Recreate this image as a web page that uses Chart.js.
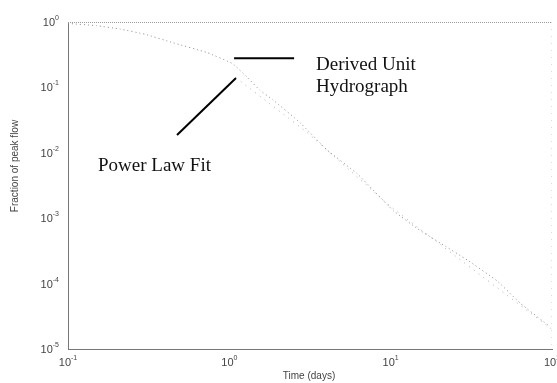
<!DOCTYPE html>
<html>
<head>
<meta charset="utf-8">
<script src="https://cdn.jsdelivr.net/npm/chart.js@4.4.1/dist/chart.umd.min.js"></script>
<style>
  html, body { margin: 0; padding: 0; background: #fff; }
  #wrap { width: 557px; height: 383px; }
</style>
</head>
<body>
<div id="wrap"><canvas id="grafico"></canvas></div>
<script>
// derived unit hydrograph (time in days, fraction of peak flow)
var hydroTime  = [0.1, 0.15, 0.21, 0.3, 0.45, 0.73, 1.05, 1.3, 1.55, 1.87, 2.74, 4.04, 6.2, 7.9, 10.4, 14.8, 20.2, 29.8, 45.7, 63.6, 97];
var hydroValue = [0.95, 0.88, 0.78, 0.65, 0.48, 0.34, 0.23, 0.14, 0.09, 0.064, 0.029, 0.011, 0.0048, 0.0026, 0.0013, 0.00068, 0.00042, 0.00023, 0.00011, 0.00005, 0.000022];

// power law fit
var fitTime  = [1.1, 3, 10, 30, 100];
var fitValue = [0.14, 0.021, 0.0015, 0.00019, 0.00002];

// callout pointers
var derivedPointerTime  = [1.07, 2.52];
var derivedPointerValue = [0.28, 0.28];
var powerPointerTime  = [0.474, 1.10];
var powerPointerValue = [0.0187, 0.139];

// tick labels
var xTicks = [0.1, 1, 10, 100];
var xExps  = ['-1', '0', '1', '2'];
var yTicks = [1, 0.1, 0.01, 0.001, 0.0001, 0.00001];
var yExps  = ['0', '-1', '-2', '-3', '-4', '-5'];

function toXY(xs, ys) {
    var out = [];
    for (let i = 0; i < xs.length; i++) out.push({x: xs[i], y: ys[i]});
    return out;
}

function pow10(ctx, base, exp, x, y, align) {
    ctx.font = '11px "Liberation Sans", Arial, sans-serif';
    var bw = ctx.measureText(base).width;
    ctx.font = '7px "Liberation Sans", Arial, sans-serif';
    var ew = ctx.measureText(exp).width;
    var left = align === 'right' ? x - bw - ew : x - (bw + ew) / 2;
    ctx.textAlign = 'left';
    ctx.textBaseline = 'middle';
    ctx.font = '11px "Liberation Sans", Arial, sans-serif';
    ctx.fillText(base, left, y);
    ctx.font = '7px "Liberation Sans", Arial, sans-serif';
    ctx.fillText(exp, left + bw, y - 5);
}

var textos = {
    id: 'textos',
    afterDraw: function (chart) {
        var ctx = chart.ctx;
        var xs = chart.scales.x, ys = chart.scales.y;
        var a = chart.chartArea;
        ctx.save();

        // top and right frame (dotted, faint like the scan)
        ctx.strokeStyle = '#999';
        ctx.lineWidth = 1;
        ctx.setLineDash([1, 1]);
        ctx.beginPath();
        ctx.moveTo(a.left, a.top + 0.5);
        ctx.lineTo(a.right, a.top + 0.5);
        ctx.stroke();
        ctx.strokeStyle = '#ddd';
        ctx.setLineDash([1, 6]);
        ctx.beginPath();
        ctx.moveTo(a.right - 0.5, a.top);
        ctx.lineTo(a.right - 0.5, a.bottom);
        ctx.stroke();
        ctx.setLineDash([]);

        ctx.fillStyle = '#444';
        for (let i = 0; i < xTicks.length; i++) {
            pow10(ctx, '10', xExps[i], xs.getPixelForValue(xTicks[i]), a.bottom + 14, 'center');
        }
        for (let i = 0; i < yTicks.length; i++) {
            pow10(ctx, '10', yExps[i], a.left - 9, ys.getPixelForValue(yTicks[i]) + 1, 'right');
        }

        // axis titles
        ctx.font = '10px "Liberation Sans", Arial, sans-serif';
        ctx.textAlign = 'center';
        ctx.textBaseline = 'middle';
        ctx.fillText('Time (days)', 309, 376);
        ctx.save();
        ctx.translate(15, 166);
        ctx.rotate(-Math.PI / 2);
        ctx.fillText('Fraction of peak flow', 0, 0);
        ctx.restore();

        // callout labels
        ctx.fillStyle = '#111';
        ctx.font = '19px "Liberation Serif", "Times New Roman", serif';
        ctx.textAlign = 'left';
        ctx.textBaseline = 'alphabetic';
        ctx.fillText('Derived Unit', 316, 70);
        ctx.fillText('Hydrograph', 316, 92);
        ctx.fillText('Power Law Fit', 98, 171);
        ctx.restore();
    }
};

var canvas = document.getElementById('grafico');
var grafico = new Chart(canvas, {
    type: 'line',
    data: {
        datasets: [{
            label: 'Derived Unit Hydrograph',
            data: toXY(hydroTime, hydroValue),
            borderColor: '#8a8a8a',
            borderWidth: 1,
            borderDash: [1, 3],
            pointRadius: 0,
            tension: 0.1,
            fill: false
        }, {
            label: 'Power Law Fit',
            data: toXY(fitTime, fitValue),
            borderColor: '#b0b0b0',
            borderWidth: 1,
            borderDash: [1, 5],
            pointRadius: 0,
            fill: false
        }, {
            label: 'pointer 1',
            data: toXY(derivedPointerTime, derivedPointerValue),
            borderColor: '#000',
            borderWidth: 2,
            pointRadius: 0
        }, {
            label: 'pointer 2',
            data: toXY(powerPointerTime, powerPointerValue),
            borderColor: '#000',
            borderWidth: 2,
            pointRadius: 0
        }]
    },
    options: {
        responsive: true,
        maintainAspectRatio: false,
        animation: false,
        layout: { padding: { left: 68, right: 5, top: 22, bottom: 34 } },
        plugins: {
            legend: { display: false },
            tooltip: { enabled: false },
            title: { display: false }
        },
        scales: {
            x: {
                type: 'logarithmic',
                min: 0.1,
                max: 100,
                ticks: { display: false },
                grid: { display: false, drawTicks: false },
                border: { display: true, color: '#777', dash: [1, 1], width: 1 }
            },
            y: {
                type: 'logarithmic',
                min: 0.00001,
                max: 1,
                ticks: { display: false },
                grid: { display: false, drawTicks: false },
                border: { display: true, color: '#777', dash: [1, 1], width: 1 }
            }
        }
    },
    plugins: [textos]
});
</script>
</body>
</html>
